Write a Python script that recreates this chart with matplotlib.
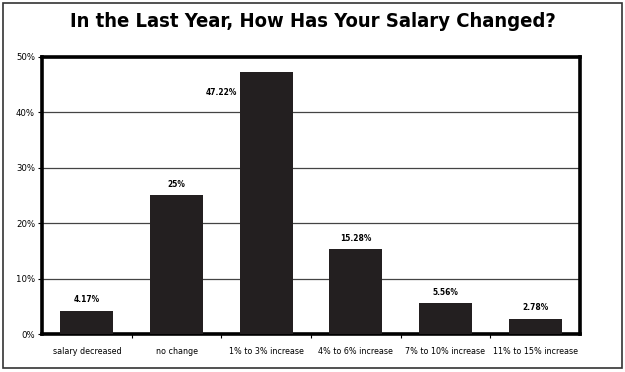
import matplotlib.pyplot as plt
import numpy as np
from matplotlib.patches import Rectangle

# ============================================================
# DATA
# ============================================================

categories = ["salary decreased", "no change", "1% to 3% increase",
              "4% to 6% increase", "7% to 10% increase", "11% to 15% increase"]
values = [4.17, 25, 47.22, 15.28, 5.56, 2.78]
labels = ["4.17%", "25%", "47.22%", "15.28%", "5.56%", "2.78%"]
yticks = [0, 10, 20, 30, 40, 50]

plt.rcParams["font.family"] = ["DejaVu Sans"]
plt.rcParams["font.stretch"] = "condensed"

# ============================================================
# PLOT
# ============================================================

fig = plt.figure(figsize=(6.25, 3.72), dpi=100)
ax = fig.add_axes([0.0672, 0.102, 0.8608, 0.745])

x = np.arange(len(categories))
bar_color = "#231f20"

ax.bar(x, values, width=0.59, color=bar_color, zorder=3)

for i, (v, lab) in enumerate(zip(values, labels)):
    if v > 45:
        ax.text(i - 0.32, v - 3.7, lab, ha="right", va="center",
                fontsize=6, fontweight="bold", fontstretch="condensed")
    else:
        ax.text(i, v + 2.0, lab, ha="center", va="center",
                fontsize=6, fontweight="bold", fontstretch="condensed")

ax.set_xlim(-0.5, len(categories) - 0.5)
ax.set_ylim(0, 50)

ax.set_yticks(yticks)
ax.set_yticklabels([f"{t}%" for t in yticks], fontsize=6.8)
ax.set_xticks(x)
ax.set_xticklabels(categories, fontsize=6.4)
ax.tick_params(axis="x", length=0, pad=9)
ax.tick_params(axis="y", length=3, width=0.8, pad=2, direction="out")
ax.set_xticks(np.arange(0.5, len(categories) - 0.5), minor=True)
ax.tick_params(axis="x", which="minor", length=3, width=0.8, direction="out")

ax.grid(axis="y", color="#444444", linewidth=0.9, zorder=0)

for s in ax.spines.values():
    s.set_linewidth(2.6)
    s.set_color("black")

fig.text(0.5, 0.942, "In the Last Year, How Has Your Salary Changed?",
         ha="center", va="center", fontsize=14.5, fontweight="bold",
         fontstretch="condensed")

# outer border
fig.patches.append(Rectangle((3 / 625, 1 - 368 / 372), 619 / 625, 365 / 372,
                             transform=fig.transFigure, fill=False,
                             edgecolor="#333333", linewidth=1.2))

fig.savefig("out.png", dpi=100)
